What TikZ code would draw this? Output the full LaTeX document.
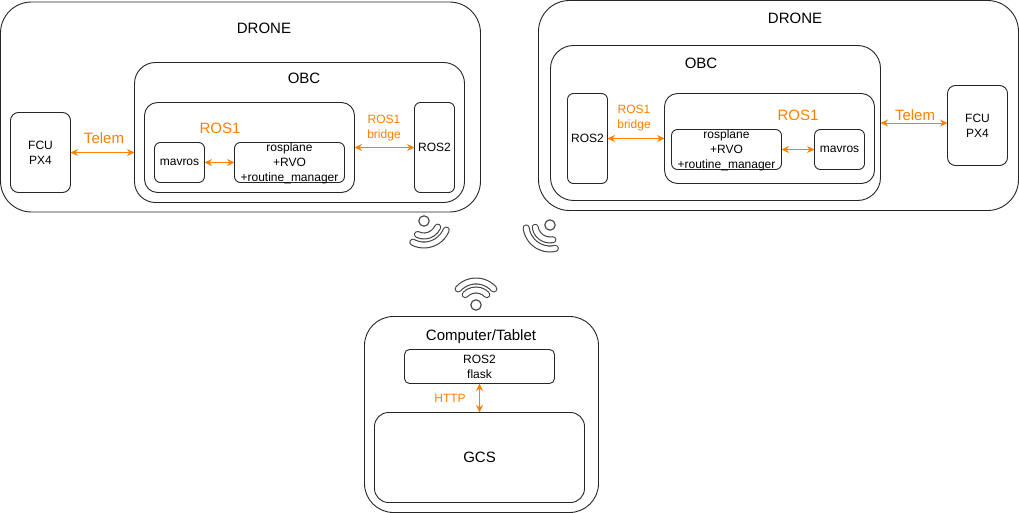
\documentclass[tikz,border=0pt]{standalone}
\usepackage{fontspec}
\setmainfont{Liberation Sans}
\usetikzlibrary{arrows.meta}
\definecolor{telemorange}{HTML}{FF8000}
\tikzset{
  box/.style={draw=black!85, line width=0.9pt, rounded corners=#1, inner sep=0pt, outer sep=0pt, anchor=north west},
  txt/.style={inner sep=0pt, align=center, font=\fontsize{12}{15}\selectfont},
  bigtxt/.style={inner sep=0pt, align=center, font=\fontsize{15}{18}\selectfont},
  link/.style={draw=telemorange, line width=0.8pt, {Stealth[length=7.5pt,width=7pt]}-{Stealth[length=7.5pt,width=7pt]}},
  waveout/.style={draw=black!75, line width=7pt, line cap=round},
  wavein/.style={draw=white, line width=4.8pt, line cap=round},
}
\begin{document}
\begin{tikzpicture}[x=1pt,y=1pt]
  \useasboundingbox (0,0) rectangle (1019,-513);
  \fill[white] (0,0) rectangle (1019,-513);

  % left drone
  \node (droneL) at (0.5,-2) [box=31pt, minimum width=480pt, minimum height=210pt] {};
  \node (obcL) at (134.5,-62.5) [box=21pt, minimum width=330pt, minimum height=140pt] {};
  \node (rosL) at (144.5,-102.5) [box=13pt, minimum width=210pt, minimum height=90pt] {};
  \node (fcuL) at (10.5,-112.5) [box=8pt, minimum width=60pt, minimum height=80pt] {};
  \node (mavrosL) at (154.5,-142.5) [box=6pt, minimum width=50pt, minimum height=40pt] {};
  \node (planeL) at (234.5,-142.5) [box=6pt, minimum width=110pt, minimum height=40pt] {};
  \node (bridgeL) at (414.5,-102.5) [box=6pt, minimum width=40pt, minimum height=90pt] {};

  \node (droneLtxt) at (264,-28) [bigtxt] {DRONE};
  \node (obcLtxt) at (304,-78) [bigtxt] {OBC};
  \node (rosLtxt) at (220,-128) [bigtxt, text=telemorange] {ROS1};
  \node (telemLtxt) at (104,-138) [bigtxt, text=telemorange] {Telem};
  \node (fcuLtxt) at (fcuL) [txt] {FCU\\PX4};
  \node (mavrosLtxt) at (mavrosL) [txt] {mavros};
  \node (planeLtxt) at ([yshift=-1pt]planeL.center) [txt] {rosplane\\+RVO\\+routine\_manager};
  \node (bridgeLtxt) at (bridgeL) [txt] {ROS2};
  \node (linkLtxt) at (384,-128) [txt, text=telemorange] {ROS1\\bridge};

  \draw[link] (fcuL.east) -- (fcuL.east -| obcL.west);
  \draw[link] (mavrosL) -- (planeL);
  \draw[link] (rosL) -- (bridgeL);

  % right drone
  \node (droneR) at (538.5,-0.5) [box=31pt, minimum width=480pt, minimum height=210pt] {};
  \node (obcR) at (550.5,-45.5) [box=23pt, minimum width=330pt, minimum height=155pt] {};
  \node (rosR) at (664.5,-93.5) [box=13pt, minimum width=210pt, minimum height=90pt] {};
  \node (fcuR) at (947.5,-85.5) [box=8pt, minimum width=60pt, minimum height=80pt] {};
  \node (mavrosR) at (814.5,-129.5) [box=6pt, minimum width=50pt, minimum height=40pt] {};
  \node (planeR) at (671.5,-129.5) [box=6pt, minimum width=110pt, minimum height=40pt] {};
  \node (bridgeR) at (567.5,-93.5) [box=6pt, minimum width=40pt, minimum height=90pt] {};

  \node (droneRtxt) at (795,-18) [bigtxt] {DRONE};
  \node (obcRtxt) at (701,-63) [bigtxt] {OBC};
  \node (rosRtxt) at (798,-115) [bigtxt, text=telemorange] {ROS1};
  \node (telemRtxt) at (915,-115) [bigtxt, text=telemorange] {Telem};
  \node (fcuRtxt) at (fcuR) [txt] {FCU\\PX4};
  \node (mavrosRtxt) at (mavrosR) [txt] {mavros};
  \node (planeRtxt) at ([yshift=-0.5pt]planeR.center) [txt] {rosplane\\+RVO\\+routine\_manager};
  \node (bridgeRtxt) at (bridgeR) [txt] {ROS2};
  \node (linkRtxt) at (634,-118) [txt, text=telemorange] {ROS1\\bridge};

  \draw[link] (obcR.east) -- (obcR.east -| fcuR.west);
  \draw[link] (planeR) -- (mavrosR);
  \draw[link] (bridgeR) -- (rosR);

  % ground station
  \node (station) at (364.5,-316.5) [box=29pt, minimum width=234pt, minimum height=196pt] {};
  \node (flask) at (404.5,-349.5) [box=5pt, minimum width=150pt, minimum height=34pt] {};
  \node (gcs) at (374.5,-412.5) [box=14pt, minimum width=210pt, minimum height=90pt] {};

  \node (stationtxt) at (481,-337) [bigtxt] {Computer/Tablet};
  \node (flasktxt) at (flask) [txt] {ROS2\\flask};
  \node (gcstxt) at (gcs) [bigtxt] {GCS};
  \node (httptxt) at (450,-398) [txt, text=telemorange] {HTTP};

  \draw[link] (flask) -- (gcs);

  % wifi icons
  \foreach \px/\py/\ang in {424/-221/-70, 550/-225/-125, 476/-305/90}{
    \draw[draw=black!75, line width=1.1pt, fill=white] (\px,\py) circle (5.2pt);
    \foreach \rad/\sweep/\sty in {24/48/waveout, 24/48/wavein, 15/46/waveout, 15/46/wavein}{
      \draw[\sty] (\px,\py) ++(\ang-\sweep:\rad) arc[start angle=\ang-\sweep, end angle=\ang+\sweep, radius=\rad];
    }
  }
\end{tikzpicture}
\end{document}
